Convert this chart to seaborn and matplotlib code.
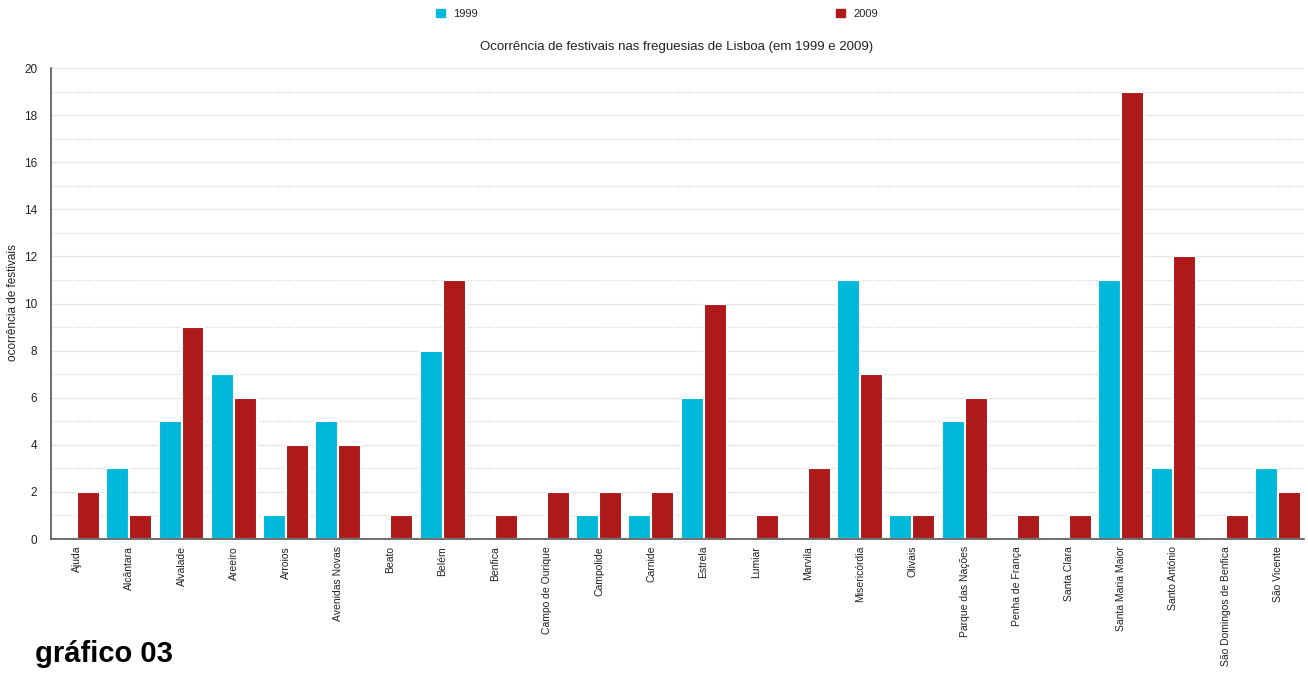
import pandas as pd
import numpy as np
import matplotlib
matplotlib.use("Agg")
import matplotlib.pyplot as plt
import seaborn as sns
from matplotlib.ticker import MultipleLocator

freguesias = [
    "Ajuda", "Alcântara", "Alvalade", "Areeiro", "Arroios", "Avenidas Novas",
    "Beato", "Belém", "Benfica", "Campo de Ourique", "Campolide", "Carnide",
    "Estrela", "Lumiar", "Marvila", "Misericórdia", "Olivais", "Parque das Nações",
    "Penha de França", "Santa Clara", "Santa Maria Maior", "Santo António",
    "São Domingos de Benfica", "São Vicente",
]
anos = ["1999", "2009"]
festivais_1999 = [0, 3, 5, 7, 1, 5, 0, 8, 0, 0, 1, 1, 6, 0, 0, 11, 1, 5, 0, 0, 11, 3, 0, 3]
festivais_2009 = [2, 1, 9, 6, 4, 4, 1, 11, 1, 2, 2, 2, 10, 1, 3, 7, 1, 6, 1, 1, 19, 12, 1, 2]
cores = ["#00B9DA", "#AE1919"]

df = pd.DataFrame({
    "freguesia": freguesias * 2,
    "ano": [anos[0]] * len(freguesias) + [anos[1]] * len(freguesias),
    "festivais": festivais_1999 + festivais_2009,
})

sns.set_theme(style="white")
plt.rcParams["font.family"] = ["Liberation Sans", "DejaVu Sans"]

fig = plt.figure(figsize=(13.08, 6.73), dpi=100)
ax = fig.add_axes([51 / 1308, 1 - 539 / 673, (1304 - 51) / 1308, (539 - 68) / 673])

sns.barplot(
    data=df, x="freguesia", y="festivais", hue="ano",
    palette=cores, width=0.88, edgecolor="white", linewidth=1.5,
    saturation=1, ax=ax, legend=False,
)

ax.set_ylim(0, 20)
ax.set_xlim(-0.5, len(freguesias) - 0.5)
ax.yaxis.set_major_locator(MultipleLocator(2))
ax.yaxis.set_minor_locator(MultipleLocator(1))
ax.grid(axis="y", which="major", color="#e6e6e6", linewidth=1, linestyle="-")
ax.grid(axis="y", which="minor", color="#cfcfcf", linewidth=0.8, linestyle=(0, (1, 1.5)))
ax.set_axisbelow(True)
for s in ["top", "right"]:
    ax.spines[s].set_visible(False)
for s in ["left", "bottom"]:
    ax.spines[s].set_color("#555555")
    ax.spines[s].set_linewidth(1.2)
ax.tick_params(axis="both", which="both", length=0, labelsize=7.5, colors="#222222")
ax.tick_params(axis="x", pad=5)
ax.tick_params(axis="y", pad=10, labelsize=8.5)
plt.setp(ax.get_xticklabels(), rotation=90, ha="center", va="top")
ax.set_xlabel("")
ax.set_ylabel("")
fig.text(13 / 1308, 1 - 303 / 673, "ocorrência de festivais", rotation=90,
         ha="center", va="center", fontsize=8.5, color="#222222")

fig.text(677 / 1308, 1 - 47 / 673, "Ocorrência de festivais nas freguesias de Lisboa (em 1999 e 2009)",
         ha="center", va="center", fontsize=9.5, color="#222222")

handles = [plt.Rectangle((0, 0), 1, 1, color=c) for c in cores]
fig.legend(handles, anos, loc="center", bbox_to_anchor=(657 / 1308, 1 - 14 / 673), ncol=2,
           frameon=False, fontsize=8, handlelength=0.8, handleheight=0.8,
           handletextpad=0.8, columnspacing=32.2)

fig.text(35 / 1308, 1 - 654 / 673, "gráfico 03", fontsize=21, fontweight="bold",
         ha="left", va="center", color="black")

fig.savefig("out.png", dpi=100)
